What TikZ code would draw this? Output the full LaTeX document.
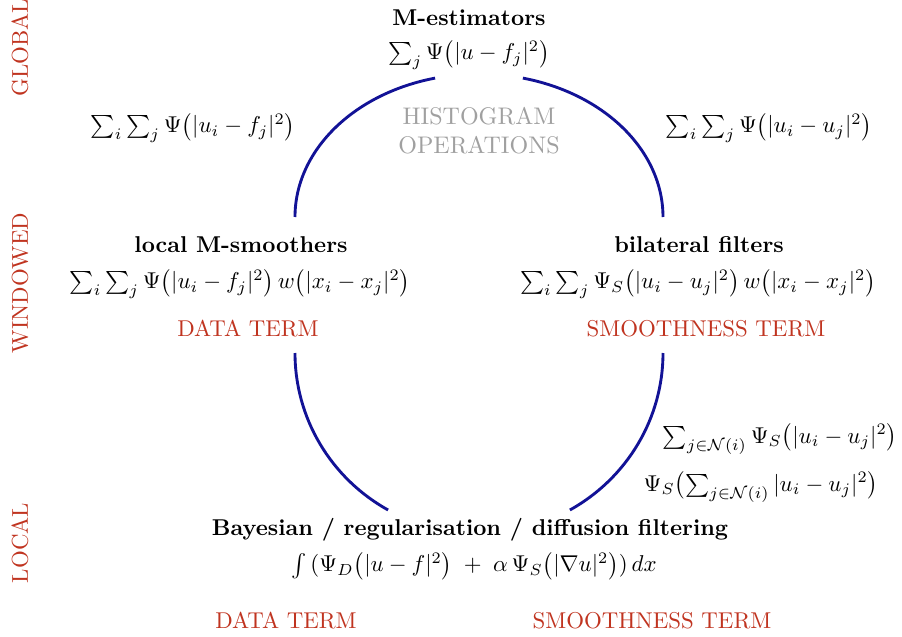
\documentclass[tikz,border=0pt]{standalone}
\usepackage{amsmath,amssymb}
\definecolor{termred}{RGB}{192,52,32}
\definecolor{histgray}{RGB}{160,160,160}
\definecolor{arcblue}{RGB}{18,18,150}
\begin{document}
\begin{tikzpicture}[x=0.4369pt,y=-0.4369pt,
  lvl/.style={text=termred,rotate=90,inner sep=0pt},
  ttl/.style={font=\bfseries,inner sep=0pt},
  fml/.style={inner sep=0pt},
  term/.style={text=termred,inner sep=0pt},
  hist/.style={text=histgray,inner sep=0pt,font=\fontsize{10.5}{12}\selectfont},
  link/.style={draw=arcblue,line width=1.25pt}]
\useasboundingbox (0,0) rectangle (902,637);
% level labels
\node[lvl] (global) at (20,48) {GLOBAL};
\node[lvl] (windowed) at (20,283) {WINDOWED};
\node[lvl] (local) at (20,543) {LOCAL};
% top
\node[ttl] (mest) at (469,18) {M-estimators};
\node[fml] (mestf) at (469,55) {$\sum_j \Psi\bigl(|u-f_j|^2\bigr)$};
\node[hist] (hist1) at (479,116) {HISTOGRAM};
\node[hist] (hist2) at (479,145) {OPERATIONS};
\node[fml] (tlf) at (193,128) {$\sum_i\sum_j \Psi\bigl(|u_i-f_j|^2\bigr)$};
\node[fml] (trf) at (769,128) {$\sum_i\sum_j \Psi\bigl(|u_i-u_j|^2\bigr)$};
% middle
\node[ttl] (lms) at (241,245) {local M-smoothers};
\node[fml] (lmsf) at (240,284) {$\sum_i\sum_j \Psi\bigl(|u_i-f_j|^2\bigr)\,w\bigl(|x_i-x_j|^2\bigr)$};
\node[term] (dt1) at (248,329) {DATA TERM};
\node[ttl] (bil) at (699,245) {bilateral filters};
\node[fml] (bilf) at (698,284) {$\sum_i\sum_j \Psi_S\bigl(|u_i-u_j|^2\bigr)\,w\bigl(|x_i-x_j|^2\bigr)$};
\node[term] (st1) at (706,329) {SMOOTHNESS TERM};
% lower right
\node[fml] (brf1) at (780,439) {$\sum_{j\in\mathcal{N}(i)} \Psi_S\bigl(|u_i-u_j|^2\bigr)$};
\node[fml] (brf2) at (761,487) {$\Psi_S\bigl(\sum_{j\in\mathcal{N}(i)} |u_i-u_j|^2\bigr)$};
% bottom
\node[ttl] (bay) at (470,530) {Bayesian / regularisation / diffusion filtering};
\node[fml] (bayf) at (474,566) {$\int\,(\Psi_D\bigl(|u-f|^2\bigr)\;+\;\alpha\,\Psi_S\bigl(|\nabla u|^2\bigr))\,dx$};
\node[term] (dt2) at (286,621) {DATA TERM};
\node[term] (st2) at (652,621) {SMOOTHNESS TERM};
% arcs
\coordinate (tla) at (295,217);
\coordinate (tlb) at (435.1,78.1);
\coordinate (tra) at (663,217);
\coordinate (trb) at (522.9,78.1);
\coordinate (bla) at (295,353);
\coordinate (blb) at (388.1,510);
\coordinate (bra) at (663,353);
\coordinate (brb) at (569.9,510);
\draw[link] (tla) .. controls (295,151.2) and (352.8,93.8) .. (tlb);
\draw[link] (tra) .. controls (663,151.2) and (605.2,93.8) .. (trb);
\draw[link] (bla) .. controls (295,418) and (330.5,477.9) .. (blb);
\draw[link] (bra) .. controls (663,418) and (627.5,477.9) .. (brb);
\end{tikzpicture}
\end{document}
